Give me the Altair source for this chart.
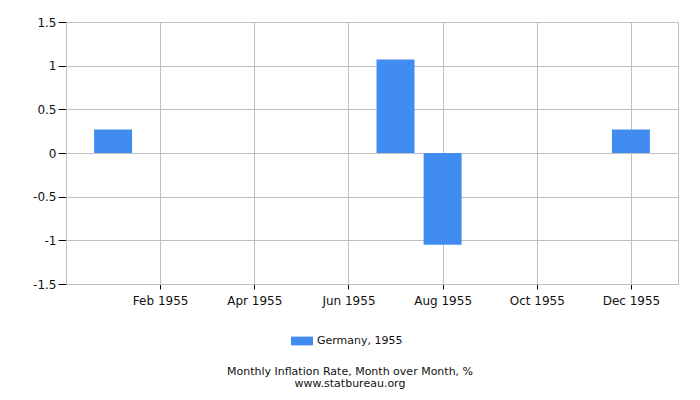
import altair as alt
import pandas as pd

months = list(range(1, 13))
month_labels = ["Jan 1955", "Feb 1955", "Mar 1955", "Apr 1955", "May 1955", "Jun 1955",
                "Jul 1955", "Aug 1955", "Sep 1955", "Oct 1955", "Nov 1955", "Dec 1955"]
values = [0.27, 0, 0, 0, 0, 0, 1.07, -1.05, 0, 0, 0, 0.27]
series = "Germany, 1955"
y_ticks = [-1.5, -1, -0.5, 0, 0.5, 1, 1.5]
x_ticks = [2, 4, 6, 8, 10, 12]

df = pd.DataFrame({"month": months, "value": values, "series": [series] * 12})

label_expr = "[" + ",".join("'%s'" % m for m in month_labels) + "][datum.value - 1]"
FONT = "DejaVu Sans"
GRID = "#bfbfbf"

chart = alt.Chart(df).mark_bar(size=38).encode(
    x=alt.X("month:Q",
            scale=alt.Scale(domain=[0, 13], nice=False, zero=False, padding=0),
            axis=alt.Axis(values=x_ticks, labelExpr=label_expr, title=None,
                          grid=True, gridColor=GRID, domainColor=GRID,
                          tickColor="#000", tickSize=5, labelPadding=6,
                          labelFont=FONT, labelFontSize=12, labelColor="#111")),
    y=alt.Y("value:Q",
            scale=alt.Scale(domain=[-1.5, 1.5], nice=False),
            axis=alt.Axis(values=y_ticks, labelExpr="'' + datum.value", title=None,
                          grid=True, gridColor=GRID, domainColor=GRID,
                          tickColor="#000", tickSize=8, labelPadding=2,
                          labelFont=FONT, labelFontSize=12, labelColor="#111")),
    color=alt.Color("series:N",
                    scale=alt.Scale(range=["#418CF0"]),
                    legend=alt.Legend(title=None, orient="none", legendX=225, legendY=308,
                                      symbolType="M-1,-0.4L1,-0.4L1,0.4L-1,0.4Z",
                                      symbolSize=484, symbolStrokeWidth=0,
                                      labelFont=FONT, labelFontSize=11, labelColor="#111",
                                      padding=0)),
).properties(
    width=612,
    height=262,
    autosize=alt.AutoSizeParams(type="none"),
    padding={"left": 58, "top": 14, "right": 14, "bottom": 116},
    title=alt.TitleParams(text="Monthly Inflation Rate, Month over Month, %",
                          subtitle="www.statbureau.org",
                          orient="bottom", anchor="middle", dx=-22, offset=20,
                          font=FONT, fontSize=11, fontWeight="normal", color="#111",
                          subtitleFont=FONT, subtitleFontSize=11, subtitleColor="#111",
                          subtitlePadding=1),
).configure_view(stroke=GRID)

chart.save("out.html", embed_options={"renderer": "svg", "actions": False})
